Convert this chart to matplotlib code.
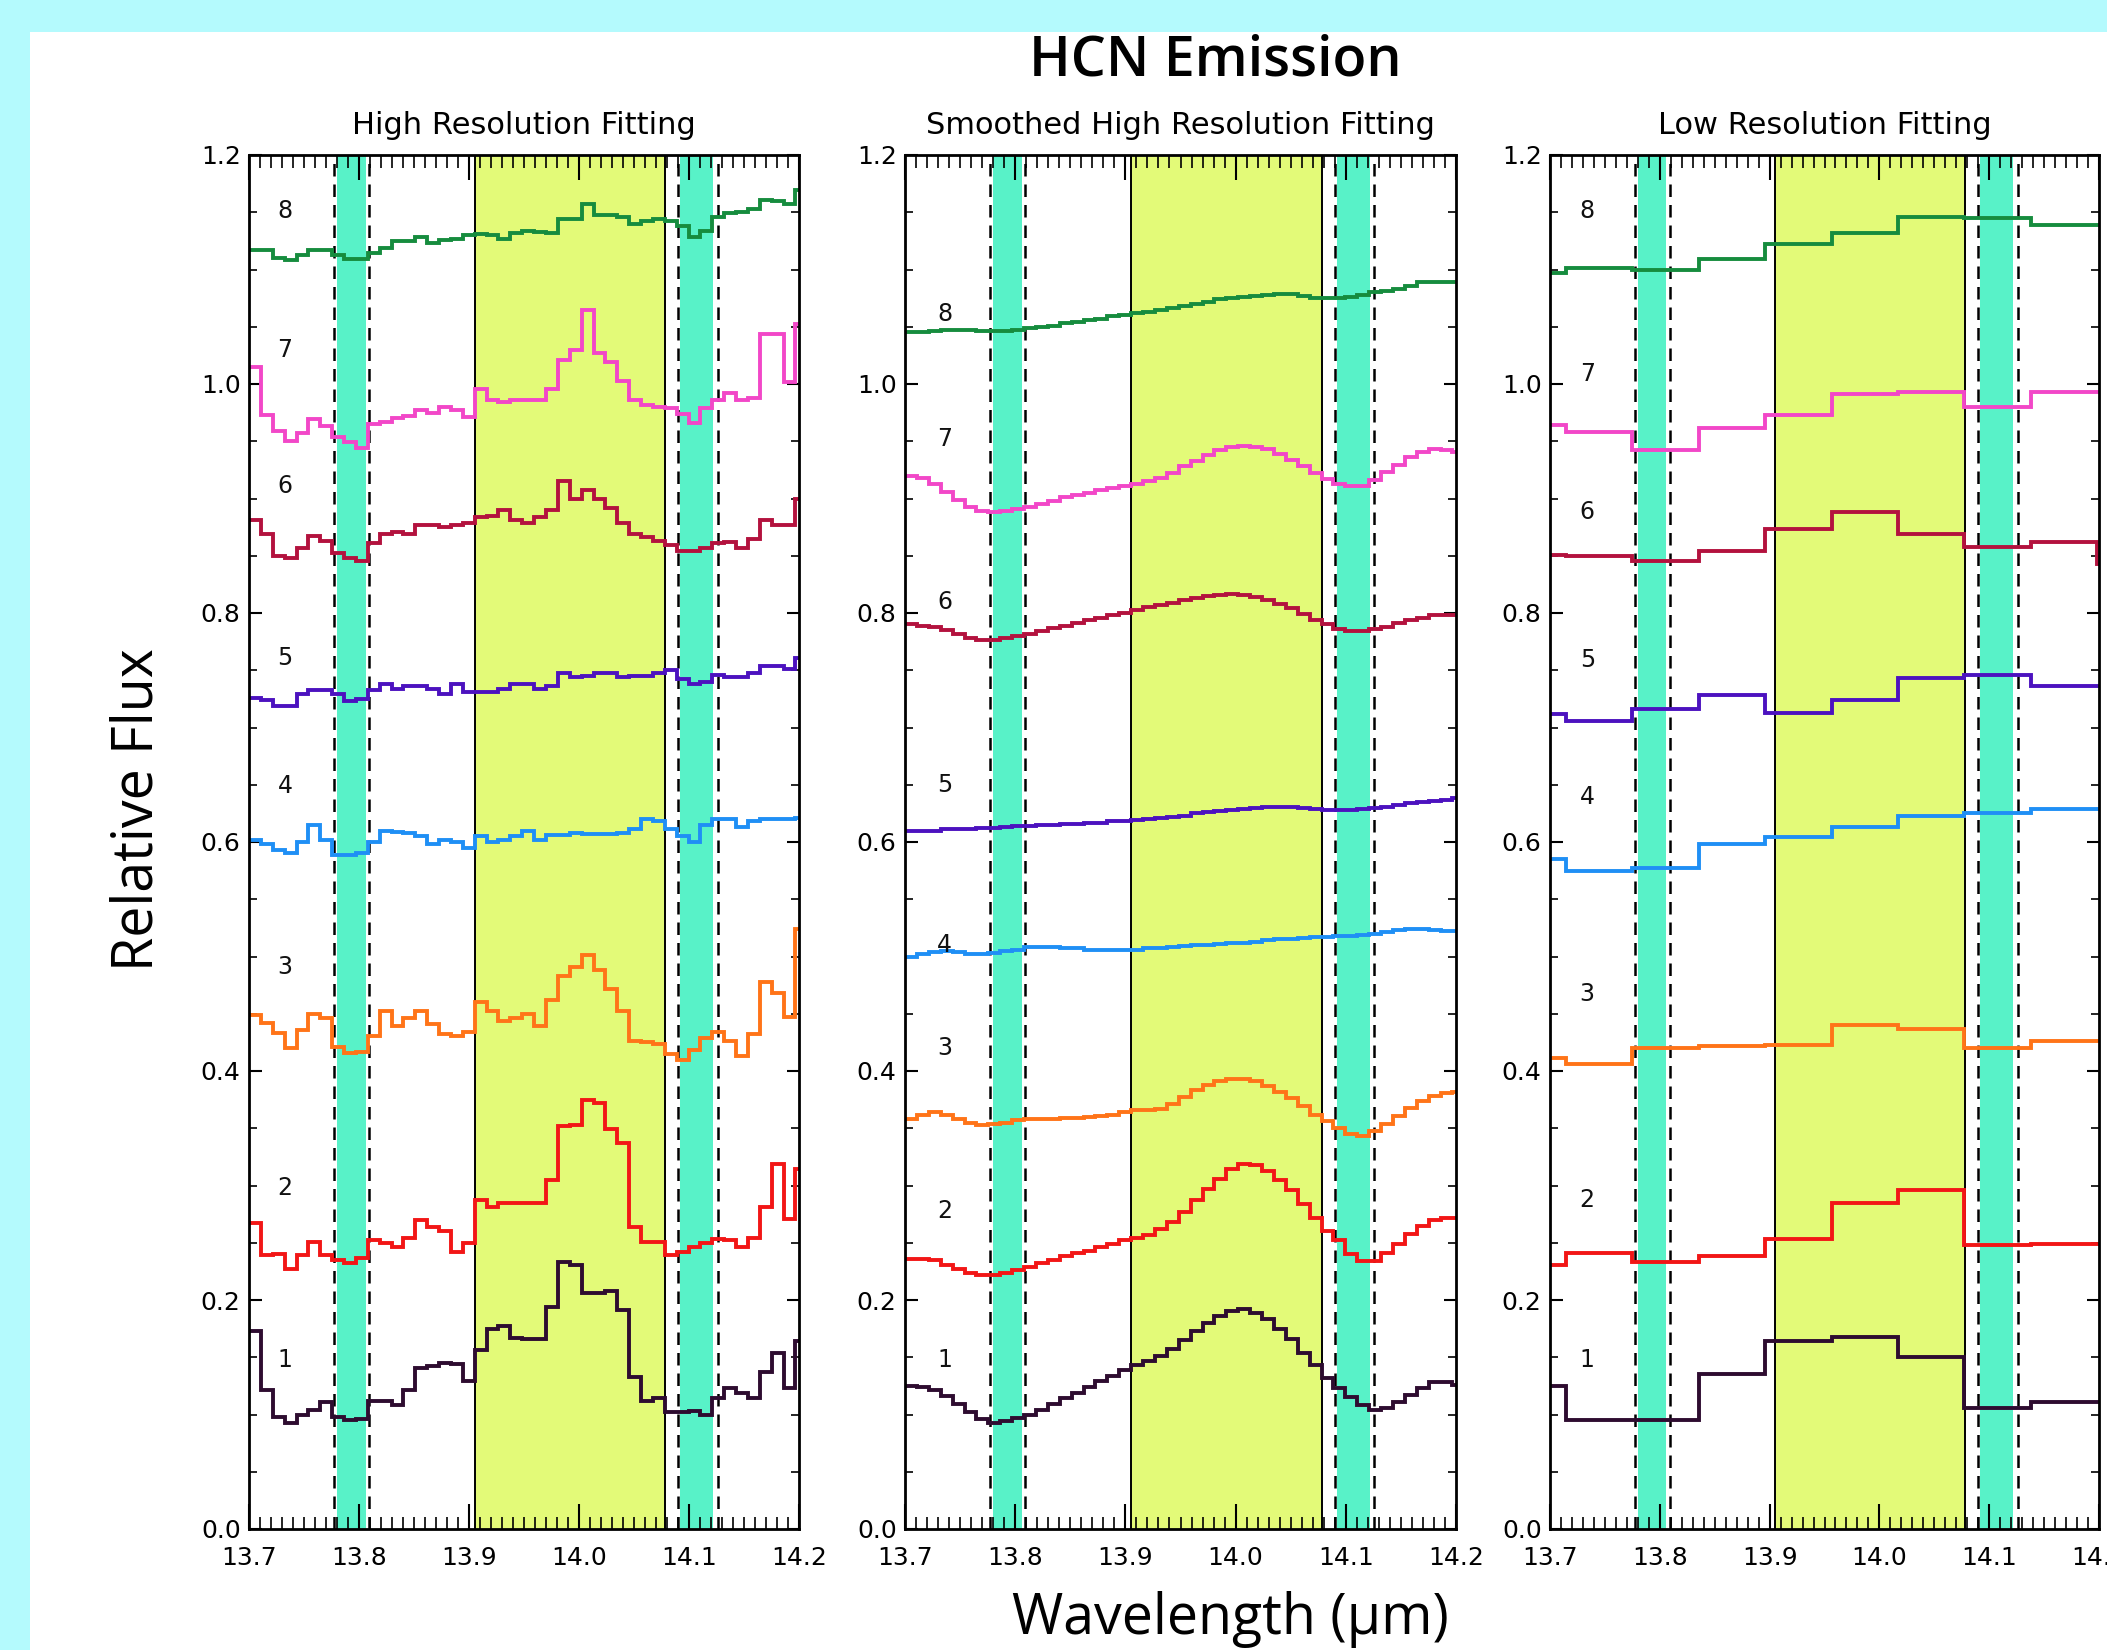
import numpy as np
import matplotlib
matplotlib.use('Agg')
import matplotlib.pyplot as plt
from matplotlib.ticker import MultipleLocator, FormatStrFormatter
from matplotlib.patches import Rectangle

# ---------------- data ----------------
# high-resolution bin grid (start, width, count)
hr_start, hr_width, hr_nbins = 13.7, 0.0108, 47
# low-resolution bin grid
lr_start, lr_width, lr_nbins = 13.654, 0.0605, 10

series_ids = [1, 2, 3, 4, 5, 6, 7, 8]
series_colors = ['#2e0c30', '#f21616', '#ff7418', '#1f8ff5',
                 '#4c12bf', '#b3123e', '#f247c8', '#168c3e']

# Panel 1: High Resolution Fitting
hr_1 = [0.173, 0.121, 0.098, 0.093, 0.100, 0.104, 0.111, 0.098, 0.095, 0.096,
        0.112, 0.112, 0.108, 0.121, 0.141, 0.142, 0.145, 0.144, 0.129, 0.156,
        0.175, 0.177, 0.167, 0.166, 0.166, 0.194, 0.233, 0.231, 0.206, 0.206,
        0.208, 0.191, 0.133, 0.112, 0.114, 0.102, 0.102, 0.103, 0.100, 0.114,
        0.123, 0.119, 0.114, 0.137, 0.154, 0.123, 0.164]
hr_2 = [0.267, 0.239, 0.240, 0.227, 0.239, 0.251, 0.239, 0.235, 0.232, 0.237,
        0.252, 0.250, 0.246, 0.254, 0.270, 0.264, 0.260, 0.242, 0.250, 0.287,
        0.281, 0.285, 0.285, 0.285, 0.285, 0.305, 0.352, 0.353, 0.375, 0.372,
        0.349, 0.337, 0.264, 0.251, 0.251, 0.239, 0.242, 0.246, 0.250, 0.253,
        0.252, 0.246, 0.254, 0.281, 0.319, 0.271, 0.314]
hr_3 = [0.449, 0.442, 0.433, 0.420, 0.436, 0.450, 0.446, 0.421, 0.416, 0.417,
        0.431, 0.452, 0.439, 0.446, 0.452, 0.441, 0.432, 0.431, 0.434, 0.460,
        0.452, 0.444, 0.446, 0.450, 0.439, 0.462, 0.483, 0.491, 0.501, 0.488,
        0.472, 0.452, 0.426, 0.425, 0.424, 0.415, 0.410, 0.418, 0.429, 0.434,
        0.426, 0.413, 0.432, 0.478, 0.468, 0.447, 0.524]
hr_4 = [0.602, 0.598, 0.593, 0.590, 0.600, 0.615, 0.602, 0.589, 0.589, 0.590,
        0.600, 0.610, 0.609, 0.608, 0.605, 0.598, 0.602, 0.600, 0.595, 0.605,
        0.600, 0.602, 0.605, 0.610, 0.602, 0.606, 0.606, 0.608, 0.607, 0.607,
        0.607, 0.608, 0.611, 0.620, 0.618, 0.611, 0.605, 0.600, 0.615, 0.620,
        0.620, 0.613, 0.618, 0.620, 0.620, 0.620, 0.621]
hr_5 = [0.726, 0.724, 0.719, 0.719, 0.729, 0.733, 0.733, 0.729, 0.723, 0.725,
        0.733, 0.738, 0.734, 0.736, 0.736, 0.734, 0.729, 0.738, 0.731, 0.731,
        0.731, 0.734, 0.738, 0.738, 0.734, 0.736, 0.748, 0.744, 0.745, 0.748,
        0.748, 0.744, 0.745, 0.745, 0.748, 0.750, 0.742, 0.738, 0.740, 0.746,
        0.744, 0.744, 0.748, 0.754, 0.754, 0.751, 0.761]
hr_6 = [0.881, 0.869, 0.850, 0.848, 0.857, 0.867, 0.863, 0.852, 0.848, 0.845,
        0.861, 0.869, 0.871, 0.869, 0.877, 0.877, 0.875, 0.877, 0.879, 0.884,
        0.885, 0.890, 0.881, 0.879, 0.884, 0.890, 0.915, 0.900, 0.907, 0.900,
        0.892, 0.879, 0.869, 0.866, 0.863, 0.859, 0.854, 0.854, 0.857, 0.861,
        0.862, 0.857, 0.865, 0.881, 0.877, 0.877, 0.900]
hr_7 = [1.015, 0.973, 0.959, 0.950, 0.957, 0.969, 0.963, 0.954, 0.949, 0.944,
        0.965, 0.967, 0.970, 0.972, 0.977, 0.975, 0.980, 0.977, 0.971, 0.996,
        0.986, 0.984, 0.986, 0.986, 0.986, 0.996, 1.021, 1.030, 1.065, 1.027,
        1.019, 1.003, 0.986, 0.982, 0.980, 0.979, 0.974, 0.966, 0.979, 0.986,
        0.992, 0.986, 0.988, 1.044, 1.044, 1.002, 1.052]
hr_8 = [1.117, 1.117, 1.110, 1.108, 1.113, 1.117, 1.117, 1.113, 1.109, 1.109,
        1.114, 1.119, 1.125, 1.125, 1.128, 1.123, 1.126, 1.127, 1.130, 1.131,
        1.130, 1.127, 1.132, 1.134, 1.133, 1.132, 1.144, 1.144, 1.157, 1.148,
        1.148, 1.146, 1.140, 1.142, 1.144, 1.142, 1.138, 1.128, 1.134, 1.146,
        1.149, 1.150, 1.153, 1.161, 1.160, 1.157, 1.169]

# Panel 2: Smoothed High Resolution Fitting
sm_1 = [0.125, 0.124, 0.121, 0.116, 0.109, 0.102, 0.096, 0.093, 0.094, 0.097,
        0.100, 0.104, 0.109, 0.114, 0.119, 0.124, 0.129, 0.134, 0.139, 0.143,
        0.147, 0.151, 0.157, 0.165, 0.173, 0.180, 0.186, 0.190, 0.192, 0.189,
        0.183, 0.175, 0.166, 0.154, 0.143, 0.132, 0.123, 0.115, 0.108, 0.104,
        0.106, 0.111, 0.117, 0.123, 0.128, 0.128, 0.126]
sm_2 = [0.236, 0.236, 0.235, 0.231, 0.227, 0.224, 0.222, 0.222, 0.224, 0.226,
        0.229, 0.232, 0.235, 0.238, 0.241, 0.243, 0.246, 0.249, 0.252, 0.254,
        0.257, 0.262, 0.268, 0.277, 0.287, 0.297, 0.306, 0.314, 0.319, 0.318,
        0.313, 0.305, 0.296, 0.284, 0.272, 0.260, 0.252, 0.240, 0.234, 0.234,
        0.241, 0.249, 0.258, 0.265, 0.270, 0.272, 0.272]
sm_3 = [0.358, 0.362, 0.364, 0.362, 0.358, 0.355, 0.353, 0.354, 0.355, 0.357,
        0.358, 0.358, 0.358, 0.359, 0.359, 0.360, 0.361, 0.362, 0.364, 0.366,
        0.366, 0.367, 0.371, 0.377, 0.383, 0.388, 0.391, 0.393, 0.393, 0.391,
        0.387, 0.382, 0.376, 0.369, 0.362, 0.356, 0.350, 0.345, 0.343, 0.348,
        0.354, 0.361, 0.368, 0.374, 0.378, 0.381, 0.382]
sm_4 = [0.500, 0.502, 0.504, 0.505, 0.504, 0.502, 0.502, 0.503, 0.505, 0.506,
        0.508, 0.508, 0.508, 0.507, 0.507, 0.506, 0.506, 0.506, 0.506, 0.506,
        0.507, 0.507, 0.508, 0.509, 0.510, 0.510, 0.511, 0.512, 0.512, 0.513,
        0.514, 0.515, 0.515, 0.516, 0.517, 0.517, 0.518, 0.518, 0.519, 0.520,
        0.521, 0.523, 0.524, 0.524, 0.523, 0.522, 0.522]
sm_5 = [0.610, 0.610, 0.610, 0.611, 0.611, 0.611, 0.612, 0.612, 0.613, 0.614,
        0.614, 0.615, 0.615, 0.616, 0.616, 0.617, 0.617, 0.618, 0.618, 0.619,
        0.620, 0.621, 0.622, 0.623, 0.625, 0.626, 0.627, 0.628, 0.629, 0.630,
        0.631, 0.631, 0.631, 0.630, 0.629, 0.628, 0.628, 0.628, 0.629, 0.630,
        0.631, 0.632, 0.634, 0.635, 0.636, 0.637, 0.638]
sm_6 = [0.790, 0.789, 0.788, 0.785, 0.782, 0.778, 0.776, 0.776, 0.778, 0.780,
        0.782, 0.784, 0.787, 0.789, 0.791, 0.794, 0.796, 0.798, 0.800, 0.803,
        0.805, 0.807, 0.809, 0.811, 0.813, 0.815, 0.816, 0.817, 0.816, 0.814,
        0.811, 0.808, 0.804, 0.799, 0.794, 0.790, 0.786, 0.784, 0.784, 0.786,
        0.788, 0.791, 0.794, 0.796, 0.798, 0.798, 0.798]
sm_7 = [0.920, 0.918, 0.913, 0.906, 0.899, 0.893, 0.889, 0.888, 0.889, 0.891,
        0.893, 0.895, 0.898, 0.901, 0.903, 0.905, 0.907, 0.909, 0.911, 0.913,
        0.915, 0.918, 0.922, 0.928, 0.933, 0.938, 0.942, 0.945, 0.946, 0.945,
        0.943, 0.939, 0.934, 0.928, 0.922, 0.917, 0.913, 0.911, 0.911, 0.916,
        0.923, 0.929, 0.936, 0.941, 0.943, 0.942, 0.941]
sm_8 = [1.045, 1.045, 1.046, 1.047, 1.047, 1.047, 1.046, 1.046, 1.046, 1.047,
        1.049, 1.050, 1.051, 1.053, 1.054, 1.056, 1.057, 1.059, 1.060, 1.062,
        1.063, 1.065, 1.066, 1.068, 1.070, 1.072, 1.074, 1.075, 1.076, 1.077,
        1.078, 1.079, 1.079, 1.077, 1.075, 1.075, 1.075, 1.076, 1.078, 1.080,
        1.081, 1.083, 1.086, 1.089, 1.089, 1.089, 1.089]

# Panel 3: Low Resolution Fitting
lr_1 = [0.125, 0.095, 0.095, 0.135, 0.164, 0.168, 0.150, 0.106, 0.111, 0.111]
lr_2 = [0.231, 0.241, 0.233, 0.238, 0.253, 0.285, 0.296, 0.248, 0.249, 0.249]
lr_3 = [0.411, 0.406, 0.420, 0.422, 0.423, 0.440, 0.437, 0.420, 0.426, 0.426]
lr_4 = [0.585, 0.575, 0.577, 0.598, 0.604, 0.613, 0.623, 0.625, 0.629, 0.629]
lr_5 = [0.712, 0.706, 0.716, 0.728, 0.713, 0.724, 0.743, 0.746, 0.736, 0.736]
lr_6 = [0.851, 0.850, 0.845, 0.854, 0.873, 0.888, 0.869, 0.858, 0.862, 0.843]
lr_7 = [0.964, 0.958, 0.942, 0.962, 0.973, 0.991, 0.993, 0.980, 0.993, 0.993]
lr_8 = [1.097, 1.101, 1.100, 1.109, 1.122, 1.132, 1.146, 1.145, 1.139, 1.139]

# label positions (wavelength, flux) of the numbers 1..8 in each panel
lab_x = [13.726, 13.729, 13.727]
lab_y_p1 = [0.148, 0.298, 0.491, 0.649, 0.761, 0.911, 1.030, 1.151]
lab_y_p2 = [0.148, 0.278, 0.420, 0.510, 0.650, 0.810, 0.952, 1.061]
lab_y_p3 = [0.148, 0.287, 0.467, 0.639, 0.759, 0.888, 1.009, 1.151]

panel_titles = ['High Resolution Fitting', 'Smoothed High Resolution Fitting',
                'Low Resolution Fitting']

# shaded regions
fit_region = (13.905, 14.078)
cont_bands = [(13.780, 13.806), (14.092, 14.122)]
cont_dash = [13.777, 13.809, 14.090, 14.126]

# ---------------- figure ----------------
W, H = 2107, 1650
fig = plt.figure(figsize=(W / 100, H / 100), dpi=100, facecolor='#b4fafd')
fig.patches.append(Rectangle((30 / W, 0), 1, 1 - 32 / H, transform=fig.transFigure,
                             facecolor='white', edgecolor='none', zorder=-10))

hr_edges = hr_start + hr_width * np.arange(hr_nbins + 1)
lr_edges = lr_start + lr_width * np.arange(lr_nbins + 1)

panels = [
    (249, 550, [hr_1, hr_2, hr_3, hr_4, hr_5, hr_6, hr_7, hr_8], hr_edges, lab_y_p1),
    (905, 551, [sm_1, sm_2, sm_3, sm_4, sm_5, sm_6, sm_7, sm_8], hr_edges, lab_y_p2),
    (1550, 549, [lr_1, lr_2, lr_3, lr_4, lr_5, lr_6, lr_7, lr_8], lr_edges, lab_y_p3),
]
top_px, bot_px = 155, 1529

for i, (left_px, width_px, data, edges, laby) in enumerate(panels):
    ax = fig.add_axes([left_px / W, 1 - bot_px / H, width_px / W, (bot_px - top_px) / H],
                      zorder=2)
    ax.set_facecolor('white')
    ax.set_xlim(13.7, 14.2)
    ax.set_ylim(0, 1.2)

    ax.axvspan(*fit_region, color='#e3fa78', zorder=0.5, lw=0)
    for b in cont_bands:
        ax.axvspan(*b, color='#58f2c8', zorder=0.6, lw=0)
    for xv in fit_region:
        ax.axvline(xv, color='black', lw=1.4, zorder=1)
    for xv in cont_dash:
        ax.axvline(xv, color='black', lw=1.8, ls=(0, (5, 3.2)), zorder=1)

    for sid, col, vals in zip(series_ids, series_colors, data):
        ax.stairs(vals, edges, baseline=None, color=col, lw=2.8, zorder=3,
                  joinstyle='miter')

    for sid, yv in zip(series_ids, laby):
        ax.text(lab_x[i], yv, str(sid), fontsize=17, ha='left', va='center',
                color='#111111', zorder=4)

    ax.xaxis.set_major_locator(MultipleLocator(0.1))
    ax.xaxis.set_minor_locator(MultipleLocator(0.01))
    ax.yaxis.set_major_locator(MultipleLocator(0.2))
    ax.yaxis.set_minor_locator(MultipleLocator(0.05))
    ax.xaxis.set_major_formatter(FormatStrFormatter('%.1f'))
    ax.yaxis.set_major_formatter(FormatStrFormatter('%.1f'))
    ax.tick_params(which='both', direction='in', top=True, right=True,
                   labelsize=18, colors='black')
    ax.tick_params(axis='x', which='major', length=18, width=1.5, pad=12)
    ax.tick_params(axis='x', which='minor', length=9, width=1.2)
    ax.tick_params(axis='y', which='major', length=9, width=1.5, pad=6)
    ax.tick_params(axis='y', which='minor', length=6, width=1.2)
    for sp in ax.spines.values():
        sp.set_linewidth(2.0)
        sp.set_zorder(5)

    cx = (left_px + width_px / 2) / W
    fig.text(cx, 1 - 125 / H, panel_titles[i], ha='center', va='center', fontsize=22)

fig.text(1215 / W, 1 - 62 / H, 'HCN Emission', ha='center', va='center',
         fontsize=40, family='Open Sans', fontweight='semibold')
fig.text(138 / W, 1 - 810 / H, 'Relative Flux', ha='center', va='center',
         rotation=90, fontsize=40, family='Open Sans')
fig.text(1230 / W, 1 - 1619 / H, 'Wavelength (\u03bcm)', ha='center', va='center',
         fontsize=40, family=['Open Sans', 'DejaVu Sans'])

fig.savefig('out.png', dpi=100, facecolor=fig.get_facecolor())
